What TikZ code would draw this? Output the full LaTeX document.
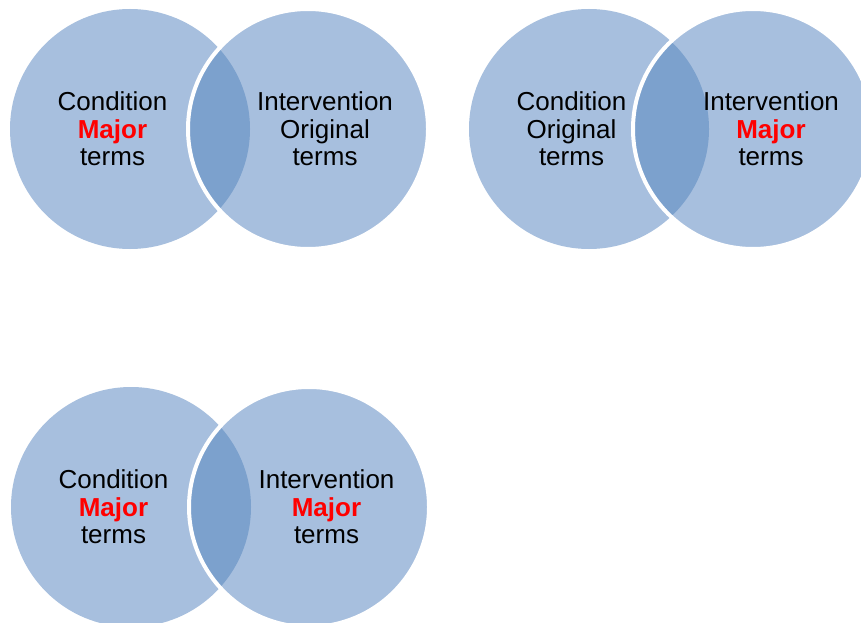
\documentclass[tikz,border=0pt]{standalone}
\usepackage{fontspec}
\setmainfont{Liberation Sans}
\definecolor{vennlight}{HTML}{A7BFDE}
\definecolor{venndark}{HTML}{7CA1CD}
\definecolor{termred}{HTML}{FF0000}
\tikzset{
  lbl/.style={align=center, text=black, inner sep=0pt,
    font=\fontsize{26}{27.5}\selectfont},
}
\newcommand{\major}{\textcolor{termred}{\textbf{Major}}}
% one Venn pair: left centre, right centre, radius
\newcommand{\vennpair}[5]{%
  \fill[vennlight] (#1,#2) circle (#5);
  \fill[vennlight] (#3,#4) circle (#5);
  \begin{scope}
    \clip (#1,#2) circle (#5);
    \fill[venndark] (#3,#4) circle (#5);
  \end{scope}
  \draw[white, line width=4pt] (#3,#4) circle (#5);
}
\begin{document}
\begin{tikzpicture}[x=1pt,y=-1pt]
\useasboundingbox (0,0) rectangle (861,623);
\clip (0,0) rectangle (861,623);
\fill[white] (0,0) rectangle (861,623);

% top-left pair
\vennpair{130}{129}{308}{129}{120}
\node[lbl] (c1) at (112.5,129) {Condition\\\major\\terms};
\node[lbl] (i1) at (325,129) {Intervention\\Original\\terms};

% top-right pair
\vennpair{589}{129}{753}{129}{120}
\node[lbl] (c2) at (571.5,129) {Condition\\Original\\terms};
\node[lbl] (i2) at (771,129) {Intervention\\\major\\terms};

% bottom pair
\vennpair{131}{507}{309}{507}{120}
\node[lbl] (c3) at (113.5,507) {Condition\\\major\\terms};
\node[lbl] (i3) at (326.5,507) {Intervention\\\major\\terms};
\end{tikzpicture}
\end{document}
